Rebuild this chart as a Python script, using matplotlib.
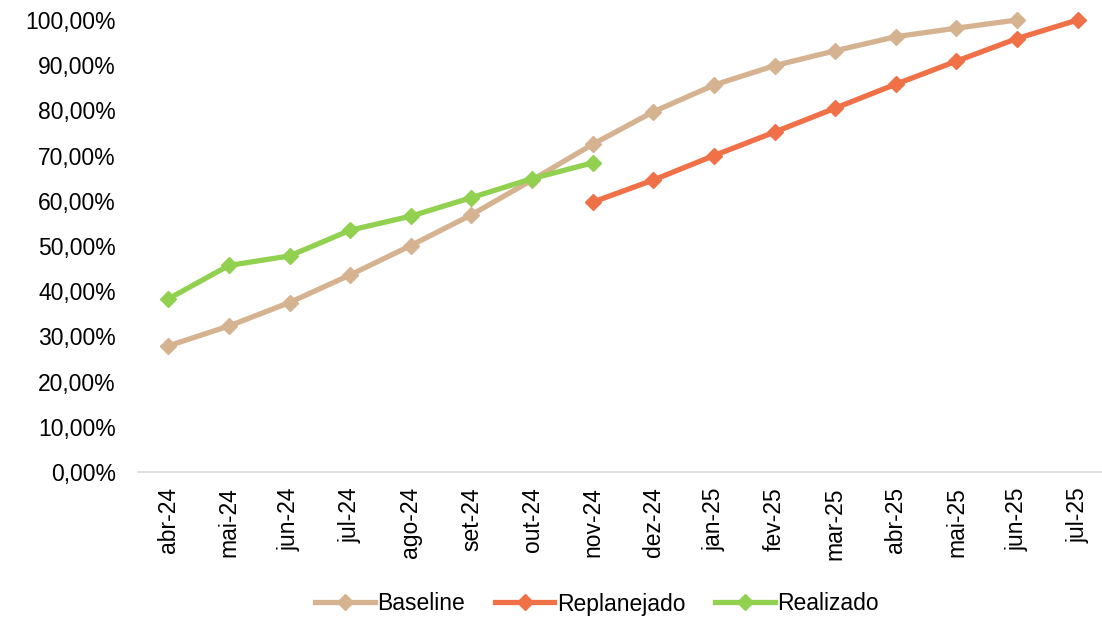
import matplotlib.pyplot as plt
from matplotlib.ticker import FuncFormatter

plt.rcParams['font.family'] = ['Liberation Sans', 'DejaVu Sans']

months = ['abr-24', 'mai-24', 'jun-24', 'jul-24', 'ago-24', 'set-24', 'out-24', 'nov-24',
          'dez-24', 'jan-25', 'fev-25', 'mar-25', 'abr-25', 'mai-25', 'jun-25', 'jul-25']

baseline = [0.279, 0.323, 0.375, 0.436, 0.501, 0.569, 0.646, 0.725,
            0.797, 0.856, 0.899, 0.932, 0.963, 0.982, 1.000]
replanejado = [0.597, 0.646, 0.700, 0.752, 0.805, 0.858, 0.909, 0.959, 1.000]
realizado = [0.383, 0.457, 0.478, 0.535, 0.566, 0.607, 0.649, 0.684]

c_base = '#D5B290'
c_repl = '#F07048'
c_real = '#92D050'

fig = plt.figure(figsize=(11.02, 6.19), dpi=100)
ax = fig.add_axes([138 / 1102, 1 - 472 / 619, 970 / 1102, 452 / 619])

x = list(range(len(months)))
ax.plot(x[:len(baseline)], baseline, color=c_base, lw=3.8, marker='D', ms=8.5,
        label='Baseline', clip_on=False)
ax.plot(x[7:7 + len(replanejado)], replanejado, color=c_repl, lw=3.8, marker='D', ms=8.5,
        label='Replanejado', clip_on=False)
ax.plot(x[:len(realizado)], realizado, color=c_real, lw=3.8, marker='D', ms=8.5,
        label='Realizado', clip_on=False)

ax.set_xlim(-0.5, len(months) - 0.5)
ax.set_ylim(0, 1.0)
ax.set_yticks([i / 10 for i in range(11)])
ax.yaxis.set_major_formatter(FuncFormatter(lambda v, p: f'{v * 100:.2f}%'.replace('.', ',')))
ax.set_xticks(x)
ax.set_xticklabels(months, rotation=90)

for s in ['top', 'right', 'left']:
    ax.spines[s].set_visible(False)
ax.spines['bottom'].set_color('#D9D9D9')
ax.spines['bottom'].set_linewidth(1.2)
ax.tick_params(axis='both', length=0, labelsize=16.5, colors='black')
ax.tick_params(axis='y', pad=16)
ax.tick_params(axis='x', pad=11)

fig.legend(loc='center', bbox_to_anchor=(597 / 1102, 1 - 604 / 619), ncol=3, frameon=False,
           fontsize=16.5, handlelength=2.6, handletextpad=0.1, columnspacing=1.3)

fig.savefig('out.png', dpi=100)
